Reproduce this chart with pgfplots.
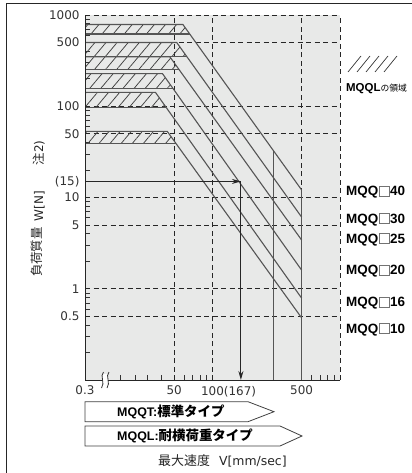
\documentclass[border=0pt]{standalone}
\usepackage{fontspec}
\setmainfont{DejaVu Sans}
\newfontfamily\cjk{Noto Sans CJK JP}
\newfontfamily\lsans{Liberation Sans}
\usepackage{pgfplots}
\pgfplotsset{compat=1.18}
\usetikzlibrary{patterns.meta,arrows.meta}
\definecolor{bg}{HTML}{E8E9E8}
\definecolor{ln}{HTML}{555555}
\newcommand\sq{\kern0.6bp{\color{black!55}\setlength\fboxsep{0pt}\setlength\fboxrule{0.9bp}\fbox{\rule{0pt}{8.8bp}\rule{8.8bp}{0pt}}}\kern0.6bp}
\begin{document}
\begin{tikzpicture}
\path[use as bounding box] (0,0) rectangle (412bp,-473bp);
\begin{axis}[
  at={(85bp,-380bp)}, anchor=south west,
  width=255bp, height=365bp, scale only axis,
  xmode=log, ymode=log,
  xmin=10, xmax=1000, ymin=0.1, ymax=1000,
  axis line style={draw=none},
  axis background/.style={fill=bg},
  tick pos=left,
  xtick={10,50,100,500,1000},
  xticklabels={0.3,50,100\rlap{(167)},500,{}},
  ytick={0.5,1,5,10,50,100,500,1000},
  yticklabels={0.5,1,5,10,50,100,500,1000},
  extra y ticks={15}, extra y tick labels={(15)},
  extra y tick style={grid=none},
  minor xtick={19,25,31,40,60,70,80,90,600,700,800,900},
  minor ytick={0.2,0.3,0.4,0.6,0.7,0.8,0.9,2,3,4,6,7,8,9,20,30,40,60,70,80,90,200,300,400,600,700,800,900},
  major tick length=0pt, minor tick length=5bp,
  tick align=inside,
  tick style={black!80, line width=0.7bp},
  grid=major,
  major grid style={dash pattern=on 5bp off 3.5bp, black!85, line width=0.8bp},
  tick label style={font=\fontsize{12}{14}\selectfont, text=black!80},
  xticklabel style={yshift=-2.5bp},
  yticklabel style={xshift=-2bp},
  clip=false,
]
% MQQL hatched regions
\addplot[draw=none, pattern={Lines[angle=50,distance=8.5bp,line width=0.75bp]}, pattern color=black!75] coordinates {(10,787) (58.6,787) (66.3,619) (10,619)} --cycle;
\addplot[draw=none, pattern={Lines[angle=50,distance=8.5bp,line width=0.75bp]}, pattern color=black!75] coordinates {(10,500) (52.4,500) (63.2,347) (10,347)} --cycle;
\addplot[draw=none, pattern={Lines[angle=50,distance=8.5bp,line width=0.75bp]}, pattern color=black!75] coordinates {(10,347) (46.4,347) (54.9,250) (10,250)} --cycle;
\addplot[draw=none, pattern={Lines[angle=50,distance=8.5bp,line width=0.75bp]}, pattern color=black!75] coordinates {(10,228) (40.5,228) (48.9,157) (10,157)} --cycle;
\addplot[draw=none, pattern={Lines[angle=50,distance=8.5bp,line width=0.75bp]}, pattern color=black!75] coordinates {(10,142) (35.7,142) (43.1,98) (10,98)} --cycle;
\addplot[draw=none, pattern={Lines[angle=50,distance=8.5bp,line width=0.75bp]}, pattern color=black!75] coordinates {(10,53) (44.2,53) (51.8,39) (10,39)} --cycle;
% MQQ 40
\addplot[ln, line width=1.1bp] coordinates {(10,787) (58.6,787) (500,12.1)};
\addplot[ln, line width=1.1bp] coordinates {(10,619) (66.3,619)};
% MQQ 30
\addplot[ln, line width=1.1bp] coordinates {(10,500) (52.4,500) (500,6.1)};
\addplot[ln, line width=1.1bp] coordinates {(10,347) (63.2,347)};
% MQQ 25
\addplot[ln, line width=1.1bp] coordinates {(10,347) (46.4,347) (500,3.42)};
\addplot[ln, line width=1.1bp] coordinates {(10,250) (54.9,250)};
% MQQ 20
\addplot[ln, line width=1.1bp] coordinates {(10,228) (40.5,228) (500,1.6)};
\addplot[ln, line width=1.1bp] coordinates {(10,157) (48.9,157)};
% MQQ 16
\addplot[ln, line width=1.1bp] coordinates {(10,142) (35.7,142) (500,0.79)};
\addplot[ln, line width=1.1bp] coordinates {(10,98) (43.1,98)};
% MQQ 10
\addplot[ln, line width=1.1bp] coordinates {(10,53) (44.2,53) (500,0.48)};
\addplot[ln, line width=1.1bp] coordinates {(10,39) (51.8,39)};
% speed limits
\addplot[ln, line width=1.1bp] coordinates {(300,32.7) (300,0.1)};
\addplot[ln, line width=1.1bp] coordinates {(500,12.1) (500,0.1)};
% example arrow
\addplot[black!85, line width=1.1bp, -{Stealth[length=9bp,width=5bp]}] coordinates {(10,15) (167,15)};
\addplot[black!85, line width=1.1bp, -{Stealth[length=9bp,width=5bp]}] coordinates {(167,15) (167,0.1)};
% axis borders
\draw[black!85, line width=1bp] (rel axis cs:0,1) -- (rel axis cs:0,0) -- (rel axis cs:1,0);
\end{axis}
\begin{scope}[x=1bp,y=-1bp]
% frame
\draw[black!85, line width=0.9bp] (6,473) -- (6,3) -- (412,3);
% axis break
\fill[white] (101.5,374) rectangle (107.5,386);
\draw[black!80, line width=0.8bp] (103.5,372) .. controls (99.5,376) and (105.5,383) .. (101.5,388);
\draw[black!80, line width=0.8bp] (109,372) .. controls (105,376) and (111,383) .. (107,388);
% legend hatch icon
\foreach \i in {0,1,2,3,4} {
  \draw[black!80, line width=0.7bp] (348+9*\i,72) -- (361+9*\i,56);
}
\node[anchor=base west, inner sep=0pt] at (346,91) {{\lsans\bfseries\fontsize{11.5}{14}\selectfont MQQL}{\cjk\fontsize{8.8}{12}\selectfont の領域}};
% right labels
\foreach \y/\s in {190.7/40,218.3/30,238.3/25,270/20,301.7/16,328.3/10} {
  \node[anchor=base west, inner sep=0pt] at (346,\y+4.8) {\lsans\bfseries\fontsize{13.5}{15}\selectfont MQQ\sq\s};
}
% y label
\node[rotate=90, anchor=base, inner sep=0pt, text=black!85] at (41,252) {\cjk\fontsize{12.5}{14}\selectfont 負荷質量};
\node[rotate=90, anchor=base, inner sep=0pt, text=black!85] at (43,206) {\fontsize{12}{13}\selectfont W[N]};
\node[rotate=90, anchor=base, inner sep=0pt, text=black!85] at (43,153) {{\cjk\fontsize{12.5}{14}\selectfont 注}{\fontsize{12}{13}\selectfont 2)}};
% bottom type boxes
\draw[black!75, line width=0.8bp, fill=white] (85,401.7) -- (248,401.7) -- (274,411.7) -- (248,421.7) -- (85,421.7) -- cycle;
\draw[black!75, line width=0.8bp, fill=white] (85,426) -- (280,426) -- (302,436) -- (280,446) -- (85,446) -- cycle;
\node[anchor=base west, inner sep=0pt] at (117,416.3) {{\lsans\bfseries\fontsize{12.5}{14}\selectfont MQQT:}{\cjk\bfseries\fontsize{13.5}{15}\selectfont 標準タイプ}};
\node[anchor=base west, inner sep=0pt] at (117,440.8) {{\lsans\bfseries\fontsize{12.5}{14}\selectfont MQQL:}{\cjk\bfseries\fontsize{13.5}{15}\selectfont 耐横荷重タイプ}};
% x label
\node[anchor=base west, inner sep=0pt, text=black!85] at (158,465) {{\cjk\fontsize{13}{15}\selectfont 最大速度}\hspace{9bp}{\fontsize{12.5}{14}\selectfont V[mm/sec]}};
\end{scope}
\end{tikzpicture}
\end{document}
